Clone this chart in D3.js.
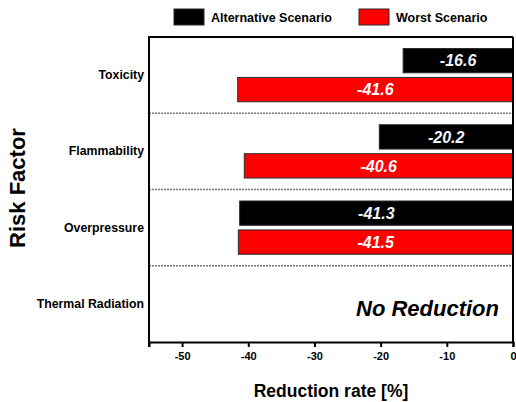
<!DOCTYPE html>
<html><head><meta charset="utf-8">
<script src="https://cdn.jsdelivr.net/npm/d3@7"></script>
<style>
body{margin:0;background:#fff;}
text{font-family:"Liberation Sans",Arial,sans-serif;}
</style></head>
<body><svg id="c" width="516" height="402"></svg>
<script>
const categories = ["Toxicity", "Flammability", "Overpressure", "Thermal Radiation"];
const seriesNames = ["Alternative Scenario", "Worst Scenario"];
const alternativeValues = [-16.6, -20.2, -41.3, null];
const worstValues = [-41.6, -40.6, -41.5, null];
const xTicks = [-50, -40, -30, -20, -10, 0];
const noReductionLabel = "No Reduction";
const colors = ["#000000", "#ff0000"];

const svg = d3.select("#c");
const L = 149, R = 513, T = 37, B = 342;

const x = d3.scaleLinear().domain([-55, 0]).range([L, R]);
const y = d3.scaleBand().domain(categories).range([T, B]);
const ySub = d3.scaleBand().domain(seriesNames).range([11.5, y.bandwidth() - 11.5]).paddingInner(0.16);

const data = [];
categories.forEach((c, i) => {
  [alternativeValues[i], worstValues[i]].forEach((v, j) => {
    if (v != null) data.push({cat: c, series: seriesNames[j], value: v, color: colors[j]});
  });
});

// separators
svg.append("g").selectAll("line").data(categories.slice(1)).join("line")
  .attr("x1", L).attr("x2", R)
  .attr("y1", d => y(d)).attr("y2", d => y(d))
  .attr("stroke", "#7a7a7a").attr("stroke-width", 1.4).attr("stroke-dasharray", "2,1");

// bars
svg.append("g").selectAll("rect").data(data).join("rect")
  .attr("x", d => x(d.value))
  .attr("width", d => x(0) - x(d.value))
  .attr("y", d => y(d.cat) + ySub(d.series))
  .attr("height", ySub.bandwidth())
  .attr("fill", d => d.color)
  .attr("stroke", "#2a2a2a").attr("stroke-width", 1);

// value labels
svg.append("g").selectAll("text").data(data).join("text")
  .attr("x", d => (x(d.value) + x(0)) / 2)
  .attr("y", d => y(d.cat) + ySub(d.series) + ySub.bandwidth() / 2)
  .attr("dy", "0.36em")
  .attr("text-anchor", "middle")
  .attr("fill", d => d.series === seriesNames[0] ? "#eef3ff" : "#ffffff")
  .style("font-size", "16px").style("font-weight", "bold").style("font-style", "italic")
  .text(d => d.value.toFixed(1));

// no reduction
svg.append("text")
  .attr("x", 499).attr("y", y("Thermal Radiation") + y.bandwidth() / 2 + 4)
  .attr("dy", "0.36em").attr("text-anchor", "end")
  .style("font-size", "22px").style("font-weight", "bold").style("font-style", "italic")
  .text(noReductionLabel);

// frame: top and right
svg.append("line").attr("x1", L).attr("x2", R).attr("y1", T).attr("y2", T)
  .attr("stroke", "#000").attr("stroke-width", 2);
svg.append("line").attr("x1", R).attr("x2", R).attr("y1", T).attr("y2", B)
  .attr("stroke", "#000").attr("stroke-width", 2);

// x axis
const xAxis = svg.append("g").attr("transform", `translate(0,${B})`)
  .call(d3.axisBottom(x).tickValues(xTicks).tickSize(5).tickSizeOuter(5).tickFormat(d3.format("d")));
xAxis.select(".domain").attr("stroke-width", 2);
xAxis.selectAll(".tick line").attr("stroke-width", 2);
xAxis.selectAll(".tick text").attr("y", 10).style("font-size", "11px").style("font-weight", "bold")
  .style("font-family", "'Liberation Sans', Arial, sans-serif").text(d => d === 0 ? "0" : d);

// y axis
const yAxis = svg.append("g").attr("transform", `translate(${L},0)`)
  .call(d3.axisLeft(y).tickSize(0).tickPadding(5).tickSizeOuter(0));
yAxis.select(".domain").attr("stroke-width", 2).attr("d", `M0,${T - 1}V${B + 5}`);
yAxis.selectAll(".tick text").style("font-size", "12.3px").style("font-weight", "bold")
  .style("font-family", "'Liberation Sans', Arial, sans-serif");

// axis titles
svg.append("text").attr("x", (L + R) / 2).attr("y", 397).attr("text-anchor", "middle")
  .style("font-size", "17.5px").style("font-weight", "bold").text("Reduction rate [%]");
svg.append("text").attr("transform", `translate(25,188) rotate(-90)`).attr("text-anchor", "middle")
  .style("font-size", "22px").style("font-weight", "bold").text("Risk Factor");

// legend
const lg = svg.append("g");
const legX = [174, 359];
seriesNames.forEach((s, i) => {
  lg.append("rect").attr("x", legX[i]).attr("y", 9).attr("width", 30).attr("height", 16)
    .attr("fill", colors[i]).attr("stroke", "#2a2a2a").attr("stroke-width", 1);
  lg.append("text").attr("x", legX[i] + 37).attr("y", 21.5)
    .style("font-size", "12.5px").style("font-weight", "bold").text(s);
});
</script></body></html>
